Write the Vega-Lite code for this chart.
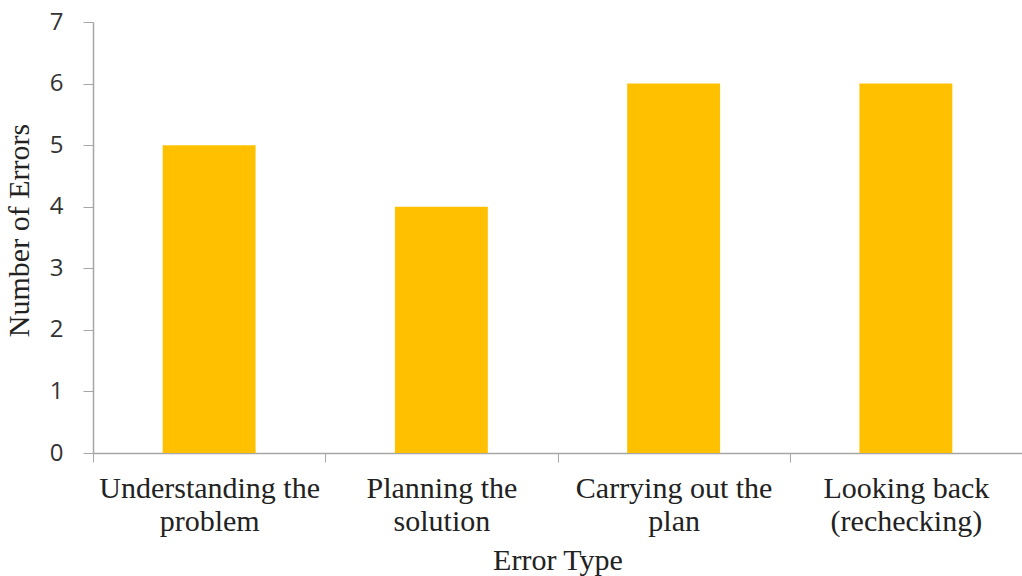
{
  "$schema": "https://vega.github.io/schema/vega-lite/v6.json",
  "width": 929,
  "height": 431,
  "autosize": {"type": "none"},
  "padding": {"left": 93, "top": 22, "right": 0, "bottom": 123},
  "background": "white",
  "data": {"values": [
    {"type": "Understanding the problem", "errors": 5},
    {"type": "Planning the solution", "errors": 4},
    {"type": "Carrying out the plan", "errors": 6},
    {"type": "Looking back (rechecking)", "errors": 6}
  ]},
  "mark": {"type": "bar", "color": "#FFC000", "width": {"band": 0.4}},
  "encoding": {
    "x": {
      "field": "type", "type": "nominal", "sort": null,
      "scale": {"paddingInner": 0, "paddingOuter": 0},
      "axis": {
        "title": "Error Type",
        "titleFont": "Liberation Serif", "titleFontSize": 30, "titleFontWeight": "normal", "titleColor": "#222",
        "titlePadding": 9,
        "labelAngle": 0,
        "labelFont": "Liberation Serif", "labelFontSize": 30, "labelColor": "#222",
        "labelLineHeight": 33,
        "labelPadding": 11,
        "labelLimit": 400,
        "labelExpr": "datum.value == 'Understanding the problem' ? ['Understanding the', 'problem'] : datum.value == 'Planning the solution' ? ['Planning the', 'solution'] : datum.value == 'Carrying out the plan' ? ['Carrying out the', 'plan'] : datum.value == 'Looking back (rechecking)' ? ['Looking back', '(rechecking)'] : ''",
        "tickBand": "extent",
        "tickSize": 9,
        "tickColor": "#A6A6A6",
        "domainColor": "#A6A6A6",
        "domainWidth": 1.5,
        "grid": false
      }
    },
    "y": {
      "field": "errors", "type": "quantitative",
      "scale": {"domain": [0, 7], "nice": false},
      "axis": {
        "title": "Number of Errors",
        "titleFont": "Liberation Serif", "titleFontSize": 30, "titleFontWeight": "normal", "titleColor": "#222",
        "titlePadding": 15,
        "titleY": 208,
        "values": [0, 1, 2, 3, 4, 5, 6, 7],
        "labelFont": "Open Sans", "labelFontSize": 24, "labelColor": "#333",
        "labelPadding": 20,
        "tickSize": 10,
        "tickColor": "#A6A6A6",
        "domainColor": "#A6A6A6",
        "domainWidth": 1.5,
        "grid": false
      }
    }
  },
  "config": {"view": {"stroke": null}}
}
